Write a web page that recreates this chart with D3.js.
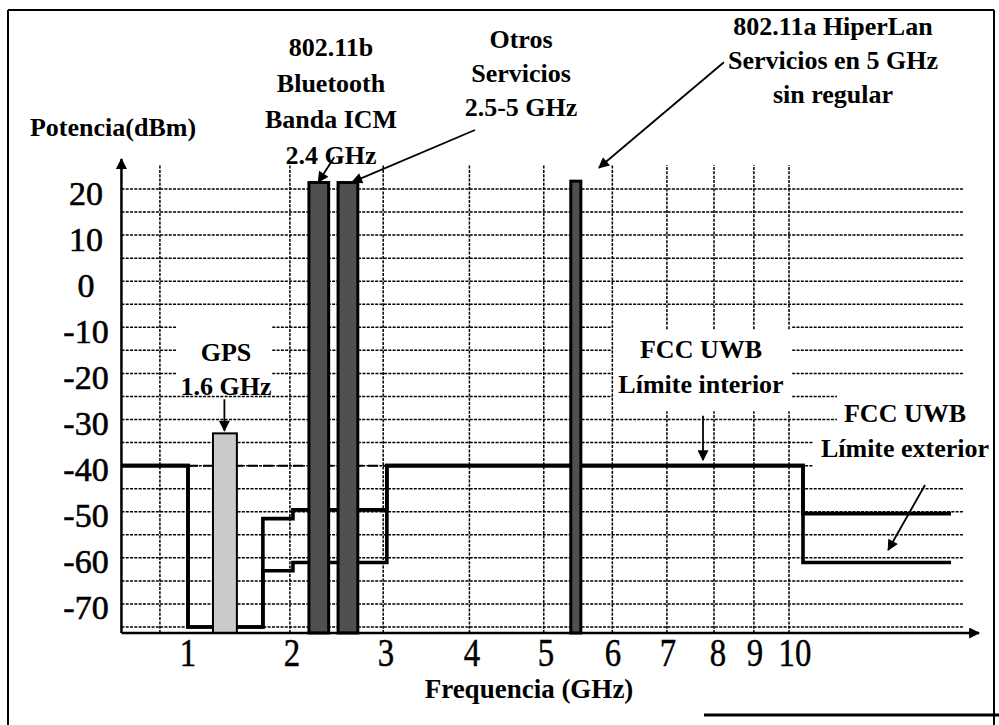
<!DOCTYPE html>
<html><head><meta charset="utf-8">
<script src="https://cdn.jsdelivr.net/npm/d3@7"></script>
<style>body{margin:0;background:#fff}svg text{font-family:"Liberation Serif","Times New Roman",Times,serif;fill:#000}</style>
</head><body><svg id="c" width="999" height="725" font-family="Liberation Serif, Times New Roman, serif"></svg>
<script>
// ---- data ----
const xTicks = [1, 2, 3, 4, 5, 6, 7, 8, 9, 10];                 // GHz labels
const yTicks = [20, 10, 0, -10, -20, -30, -40, -50, -60, -70];   // dBm labels
const yGridVals = [20, 15, 10, 5, 0, -5, -10, -15, -20, -25, -30, -35, -40, -45, -50, -55, -60, -65, -70, -75];
const xGridVals = [0.73, 1.98, 2.97, 3.97, 4.97, 5.99, 6.98, 7.92, 8.97, 9.85];

const barNames = ["GPS", "802.11b", "Otros", "HiperLan"];
const barFrom  = [1.24, 2.18, 2.49, 5.37];
const barTo    = [1.47, 2.39, 2.70, 5.52];
const barTop   = [-33, 21.4, 21.4, 21.7];
const barKind  = ["light", "dark", "dark", "dark"];

const interiorF = [0.36, 1.0, 1.0, 1.72, 1.72, 2.01, 2.01, 3.01, 3.01, 10.2, 10.2, 13.9];
const interiorP = [-40, -40, -75, -75, -51.5, -51.5, -49.6, -49.6, -40, -40, -50.4, -50.4];
const exteriorF = [0.36, 1.0, 1.0, 1.72, 1.72, 2.01, 2.01, 3.01, 3.01, 10.2, 10.2, 13.9];
const exteriorP = [-40, -40, -75, -75, -62.8, -62.8, -61, -61, -40, -40, -61, -61];
const dashedF = [1.0, 3.0];
const dashedP = [-40, -40];

// ---- layout ----
const W = 999, H = 725;
const svg = d3.select("#c");
const xTickPx = [188, 292, 386, 472, 546, 613, 668, 718, 755, 795];
const x = d3.scaleLinear().domain(xTicks).range(xTickPx);   // hand drawn, piecewise axis
const y = d3.scaleLinear().domain([-76.3, 20]).range([633, 189]);
const xMin = 0.36, xMax = 14.2, xArrow = 14.6;
const yTopGrid = 25.2;

// frame
svg.append("rect").attr("width", W).attr("height", H).attr("fill", "#fff");
const frame = svg.append("g").attr("stroke", "#000").attr("fill", "none");
frame.append("line").attr("x1", 8).attr("x2", 994).attr("y1", 10).attr("y2", 10).attr("stroke-width", 2);
frame.append("line").attr("x1", 8).attr("x2", 8).attr("y1", 10).attr("y2", 725).attr("stroke-width", 2);
frame.append("line").attr("x1", 994).attr("x2", 994).attr("y1", 10).attr("y2", 725).attr("stroke-width", 2);
frame.append("line").attr("x1", 704).attr("x2", 999).attr("y1", 715).attr("y2", 715).attr("stroke-width", 3);

// markers
const defs = svg.append("defs");
defs.append("marker").attr("id", "ah").attr("viewBox", "0 0 10 10").attr("refX", 9).attr("refY", 5)
  .attr("markerWidth", 12).attr("markerHeight", 11).attr("markerUnits", "userSpaceOnUse").attr("orient", "auto")
  .append("path").attr("d", "M0,0 L10,5 L0,10 Z").attr("fill", "#000");
defs.append("marker").attr("id", "axh").attr("viewBox", "0 0 10 10").attr("refX", 9).attr("refY", 5)
  .attr("markerWidth", 14).attr("markerHeight", 11).attr("markerUnits", "userSpaceOnUse").attr("orient", "auto")
  .append("path").attr("d", "M0,0 L10,5 L0,10 Z").attr("fill", "#000");

// grid: horizontal lines with gaps around text (in data units)
const hGaps = [
  {v: [-10, -15, -20], from: 0.89, to: 1.81},
  {v: [-10, -15, -20, -25], from: 5.99, to: 9.93},
  {v: [-25, -30], from: 11.05, to: 99},
  {v: [-35, -40], from: 10.45, to: 99}
];
const grid = svg.append("g").attr("stroke", "#000").attr("stroke-width", 1.5).attr("stroke-dasharray", "3,1.3").attr("fill", "none");
yGridVals.forEach(v => {
  let segs = [[xMin, xMax]];
  hGaps.filter(g => g.v.includes(v)).forEach(g => {
    segs = segs.flatMap(([a, b]) => {
      const out = [];
      if (g.from > a) out.push([a, Math.min(b, g.from)]);
      if (g.to < b) out.push([Math.max(a, g.to), b]);
      return out;
    });
  });
  segs.forEach(([a, b]) => grid.append("line").attr("x1", x(a)).attr("x2", x(b)).attr("y1", y(v)).attr("y2", y(v)));
});
const vGaps = [{f: [6.98, 7.92, 8.97, 9.85], from: -10.4, to: -28.2}];
xGridVals.forEach(f => {
  let segs = [[y.domain()[0], yTopGrid]];
  vGaps.filter(g => g.f.includes(f)).forEach(g => {
    segs = segs.flatMap(([a, b]) => [[a, g.to], [g.from, b]]);
  });
  segs.forEach(([a, b]) => grid.append("line").attr("x1", x(f)).attr("x2", x(f)).attr("y1", y(a)).attr("y2", y(b)));
});

// limit lines
const line = d3.line().x(d => x(d[0])).y(d => y(d[1])).curve(d3.curveLinear);
svg.append("path").datum(d3.zip(dashedF, dashedP)).attr("d", line)
  .attr("fill", "none").attr("stroke", "#000").attr("stroke-width", 2).attr("stroke-dasharray", "10,5");
[[exteriorF, exteriorP], [interiorF, interiorP]].forEach(([F, P]) => {
  svg.append("path").datum(d3.zip(F, P)).attr("d", line)
    .attr("fill", "none").attr("stroke", "#000").attr("stroke-width", 3.6).attr("stroke-linejoin", "miter");
});

// bars
const fills = {light: "#cacaca", dark: "#505050"};
svg.append("g").selectAll("rect").data(barNames).join("rect")
  .attr("x", (d, i) => x(barFrom[i]))
  .attr("width", (d, i) => x(barTo[i]) - x(barFrom[i]))
  .attr("y", (d, i) => y(barTop[i]))
  .attr("height", (d, i) => y(-76.3) - y(barTop[i]))
  .attr("fill", (d, i) => fills[barKind[i]])
  .attr("stroke", "#000").attr("stroke-width", (d, i) => barKind[i] === "dark" ? 3 : 2);

// axes
svg.append("line").attr("x1", x(xMin)).attr("x2", x(xArrow)).attr("y1", y(-76.3)).attr("y2", y(-76.3))
  .attr("stroke", "#000").attr("stroke-width", 2.5).attr("marker-end", "url(#axh)");
svg.append("line").attr("x1", x(xMin)).attr("x2", x(xMin)).attr("y1", y(-76.3)).attr("y2", y(26.5))
  .attr("stroke", "#000").attr("stroke-width", 2.5).attr("marker-end", "url(#axh)");

// tick labels
svg.append("g").selectAll("text").data(yTicks).join("text")
  .attr("x", 86).attr("y", d => y(d) + 4).attr("text-anchor", "middle").attr("dominant-baseline", "central")
  .attr("font-size", 34).attr("stroke", "#000").attr("stroke-width", 0.6).text(d => d);
svg.append("g").selectAll("text").data(xTicks).join("text")
  .attr("transform", d => `translate(${x(d)},${666}) scale(0.8,1)`)
  .attr("text-anchor", "middle").attr("font-size", 41).attr("stroke", "#000").attr("stroke-width", 0.5).text(d => d);

// titles
svg.append("text").attr("x", 113).attr("y", 127).attr("text-anchor", "middle").attr("dominant-baseline", "central")
  .attr("font-size", 26).attr("font-weight", "bold").text("Potencia(dBm)");
svg.append("text").attr("x", 529).attr("y", 689).attr("text-anchor", "middle").attr("dominant-baseline", "central")
  .attr("font-size", 27).attr("font-weight", "bold").text("Frequencia (GHz)");

// annotations
function block(cx, cy, lines, dy) {
  const t = svg.append("text").attr("text-anchor", "middle").attr("font-size", 26).attr("font-weight", "bold");
  lines.forEach((s, i) => t.append("tspan").attr("x", cx).attr("y", cy + i * dy).attr("dominant-baseline", "central").text(s));
}
block(331, 47, ["802.11b", "Bluetooth", "Banda ICM", "2.4 GHz"], 36);
block(521, 39, ["Otros", "Servicios", "2.5-5 GHz"], 34);
block(833, 26, ["802.11a HiperLan", "Servicios en 5 GHz", "sin regular"], 34);
block(226, 352, ["GPS", "1.6 GHz"], 34);
block(701, 349, ["FCC UWB", "Límite interior"], 35);
block(905, 413, ["FCC UWB", "Límite exterior"], 35);

// annotation arrows (data units)
const arrows = [
  [[1.35, -25.6], [1.35, -32.4]],
  [[2.45, 26.9], [2.28, 21.5]],
  [[4.04, 32.8], [2.64, 21.5]],
  [[8.16, 47.5], [5.79, 24.6]],
  [[7.7, -29.2], [7.7, -38.8]],
  [[13.25, -44.2], [12.33, -58.3]]
];
svg.append("g").selectAll("line").data(arrows).join("line")
  .attr("x1", d => x(d[0][0])).attr("y1", d => y(d[0][1]))
  .attr("x2", d => x(d[1][0])).attr("y2", d => y(d[1][1]))
  .attr("stroke", "#000").attr("stroke-width", 1.8).attr("marker-end", "url(#ah)");
</script></body></html>
